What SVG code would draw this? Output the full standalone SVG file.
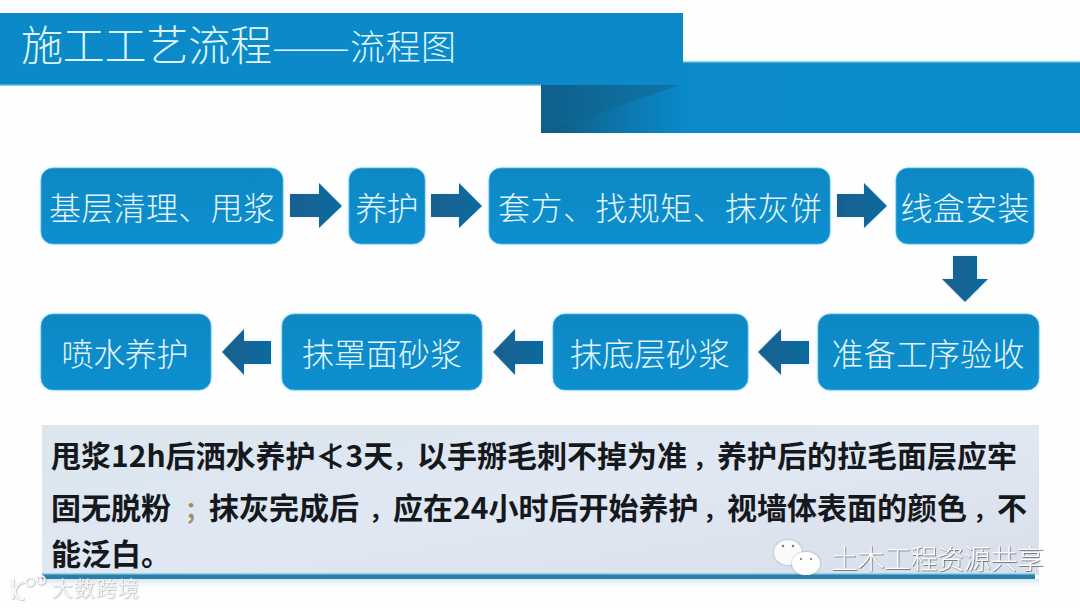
<svg xmlns="http://www.w3.org/2000/svg" width="1080" height="608" viewBox="0 0 1080 608">
<style>
.cjk{font-family:"Noto Sans CJK SC","Noto Sans CJK TC",sans-serif}
.box{fill:url(#boxFill);stroke:#56b9e2;stroke-width:0.8;filter:url(#glow)}
.lbl{font-size:32px;font-weight:300;fill:#e4f5f9;text-anchor:middle;dominant-baseline:central}
.arr{fill:url(#arrFill);filter:url(#glow)}
.body{font-size:30px;font-weight:700;fill:#15181c}
.p{font-size:24px}
.ttl{font-weight:300;fill:#dcf6fa}
</style>
<defs>
<linearGradient id="boxFill" x1="0" y1="0" x2="0" y2="1"><stop offset="0" stop-color="#0f88c4"/><stop offset="1" stop-color="#0d8fcf"/></linearGradient>
<linearGradient id="arrFill" x1="0" y1="0" x2="1" y2="0"><stop offset="0" stop-color="#14608f"/><stop offset="1" stop-color="#106a9f"/></linearGradient>
<linearGradient id="fold" x1="0" y1="0" x2="1" y2="0"><stop offset="0" stop-color="#11577f"/><stop offset="0.14" stop-color="#0c74a9"/><stop offset="0.27" stop-color="#0a8ac9"/><stop offset="1" stop-color="#0a8bca"/></linearGradient>
<linearGradient id="panel" x1="0" y1="0" x2="1" y2="1"><stop offset="0" stop-color="#dbe6ee"/><stop offset="0.5" stop-color="#e0e8f3"/><stop offset="1" stop-color="#d9deeb"/></linearGradient>
<linearGradient id="tri" x1="0" y1="0" x2="1" y2="0"><stop offset="0" stop-color="#0f5f8c"/><stop offset="1" stop-color="#0d76a8"/></linearGradient>
<linearGradient id="under" x1="0" y1="0" x2="0" y2="1"><stop offset="0" stop-color="#b9dbe9" stop-opacity="0.7"/><stop offset="1" stop-color="#ffffff" stop-opacity="0"/></linearGradient>
<filter id="glow" x="-10%" y="-10%" width="120%" height="120%"><feDropShadow dx="0" dy="0" stdDeviation="1.5" flood-color="#7fcdec" flood-opacity="0.4"/></filter>
<filter id="soft" x="-10%" y="-10%" width="120%" height="120%"><feDropShadow dx="0" dy="0" stdDeviation="0.8" flood-color="#555" flood-opacity="0.5"/></filter>
<filter id="wm" x="-5%" y="-15%" width="110%" height="130%"><feDropShadow dx="0.7" dy="0.7" stdDeviation="0.4" flood-color="#333" flood-opacity="0.8"/></filter>
<filter id="wm2" x="-5%" y="-15%" width="110%" height="130%"><feDropShadow dx="0.5" dy="0.5" stdDeviation="0.6" flood-color="#888" flood-opacity="0.8"/></filter>
</defs>
<rect width="1080" height="608" fill="#fefefe"/>
<g id="banner">
<rect x="541" y="61" width="539" height="72" fill="url(#fold)"/>
<rect x="683" y="61" width="397" height="1.5" fill="#8bd6ef"/>
<polygon points="541,85 680,85 541,133" fill="url(#tri)"/>
<rect x="0" y="13" width="683" height="72" fill="#0b89c8"/>
<rect x="0" y="84.5" width="541" height="1.5" fill="#7fd0ee"/>
<text class="cjk ttl" x="21" y="61" font-size="42" textLength="251">施工工艺流程</text>
<text class="cjk ttl" x="272" y="60" font-size="35" textLength="78" lengthAdjust="spacingAndGlyphs">——</text>
<text class="cjk ttl" x="350" y="60" font-size="35" textLength="106">流程图</text>
</g>
<g id="connectors">
<polygon class="arr" points="290,194 319,194 319,183 342,206 319,228 319,217 290,217"/>
<polygon class="arr" points="431,194 459,194 459,183 482,206 459,228 459,217 431,217"/>
<polygon class="arr" points="837,194 864,194 864,183 887,206 864,228 864,217 837,217"/>
<polygon class="arr" points="953,256 977,256 977,279 988,279 965,302 942,279 953,279"/>
<polygon class="arr" points="809,341 781,341 781,329 758,352 781,375 781,364 809,364"/>
<polygon class="arr" points="543,341 515,341 515,329 493,352 515,375 515,364 543,364"/>
<polygon class="arr" points="271,341 244,341 244,329 222,352 244,375 244,364 271,364"/>
</g>
<g id="n1"><rect class="box" x="41" y="168" width="242" height="76" rx="12"/><text class="cjk lbl" x="162" y="206" textLength="226">基层清理、甩浆</text></g>
<g id="n2"><rect class="box" x="349" y="168" width="76" height="76" rx="12"/><text class="cjk lbl" x="387" y="206" textLength="63">养护</text></g>
<g id="n3"><rect class="box" x="489" y="168" width="341" height="76" rx="12"/><text class="cjk lbl" x="660" y="206" textLength="324">套方、找规矩、抹灰饼</text></g>
<g id="n4"><rect class="box" x="896" y="168" width="138" height="76" rx="12"/><text class="cjk lbl" x="965" y="206" textLength="129">线盒安装</text></g>
<g id="n5"><rect class="box" x="818" y="314" width="221" height="76" rx="12"/><text class="cjk lbl" x="928" y="352" textLength="193">准备工序验收</text></g>
<g id="n6"><rect class="box" x="553" y="314" width="195" height="76" rx="12"/><text class="cjk lbl" x="650" y="352" textLength="160">抹底层砂浆</text></g>
<g id="n7"><rect class="box" x="282" y="314" width="200" height="76" rx="12"/><text class="cjk lbl" x="382" y="352" textLength="160">抹罩面砂浆</text></g>
<g id="n8"><rect class="box" x="41" y="314" width="170" height="76" rx="12"/><text class="cjk lbl" x="125" y="352" textLength="127">喷水养护</text></g>
<g id="note">
<rect x="42" y="579" width="997" height="10" fill="url(#under)"/>
<rect x="42" y="425" width="997" height="150" fill="url(#panel)"/>
<rect x="42" y="574" width="993" height="5" fill="#2d7ea6"/>
<rect x="42" y="573" width="993" height="1.5" fill="#8fd4ee"/>
<text class="cjk body" y="467"><tspan x="51">甩浆12h后洒水养护≮3天</tspan><tspan class="p" x="393">，</tspan><tspan x="417">以手掰毛刺不掉为准</tspan><tspan class="p" x="693">，</tspan><tspan x="717">养护后的拉毛面层应牢</tspan></text>
<text class="cjk body" y="519"><tspan x="51">固无脱粉</tspan><tspan class="p" x="185" fill="#a58a68">；</tspan><tspan x="209">抹灰完成后</tspan><tspan class="p" x="369">，</tspan><tspan x="393">应在24小时后开始养护</tspan><tspan class="p" x="703">，</tspan><tspan x="727">视墙体表面的颜色</tspan><tspan class="p" x="973">，</tspan><tspan x="997">不</tspan></text>
<text class="cjk body" x="51" y="565" font-size="29">能泛白。</text>
</g>
<g id="watermark-wechat">
<ellipse cx="788" cy="552.5" rx="14" ry="12.5" fill="#fbfbfb" filter="url(#soft)"/>
<ellipse cx="806" cy="563.5" rx="14" ry="11.5" fill="#ffffff" filter="url(#soft)"/>
<circle cx="783" cy="546" r="1.2" fill="#777"/><circle cx="793" cy="546" r="1.2" fill="#777"/>
<circle cx="801" cy="559" r="1.1" fill="#777"/><circle cx="811" cy="559" r="1.1" fill="#777"/>
<text class="cjk" x="831" y="569" font-size="27" font-weight="300" textLength="213" fill="#ffffff" filter="url(#wm)">土木工程资源共享</text>
</g>
<g id="watermark-corner" filter="url(#wm2)">
<path d="M13 579v20M27 582c-7-1-12 5-12 9c0 5 4 9 9 8M15 590l-4-5" fill="none" stroke="#f6f6f6" stroke-width="2.4"/>
<circle cx="30" cy="582" r="4" fill="none" stroke="#f6f6f6" stroke-width="1.8"/>
<circle cx="41" cy="580" r="4" fill="none" stroke="#f6f6f6" stroke-width="1.8"/>
<text class="cjk" x="52" y="596" font-size="21" font-weight="400" textLength="87" fill="#f4f4f4">大数跨境</text>
</g>
</svg>
